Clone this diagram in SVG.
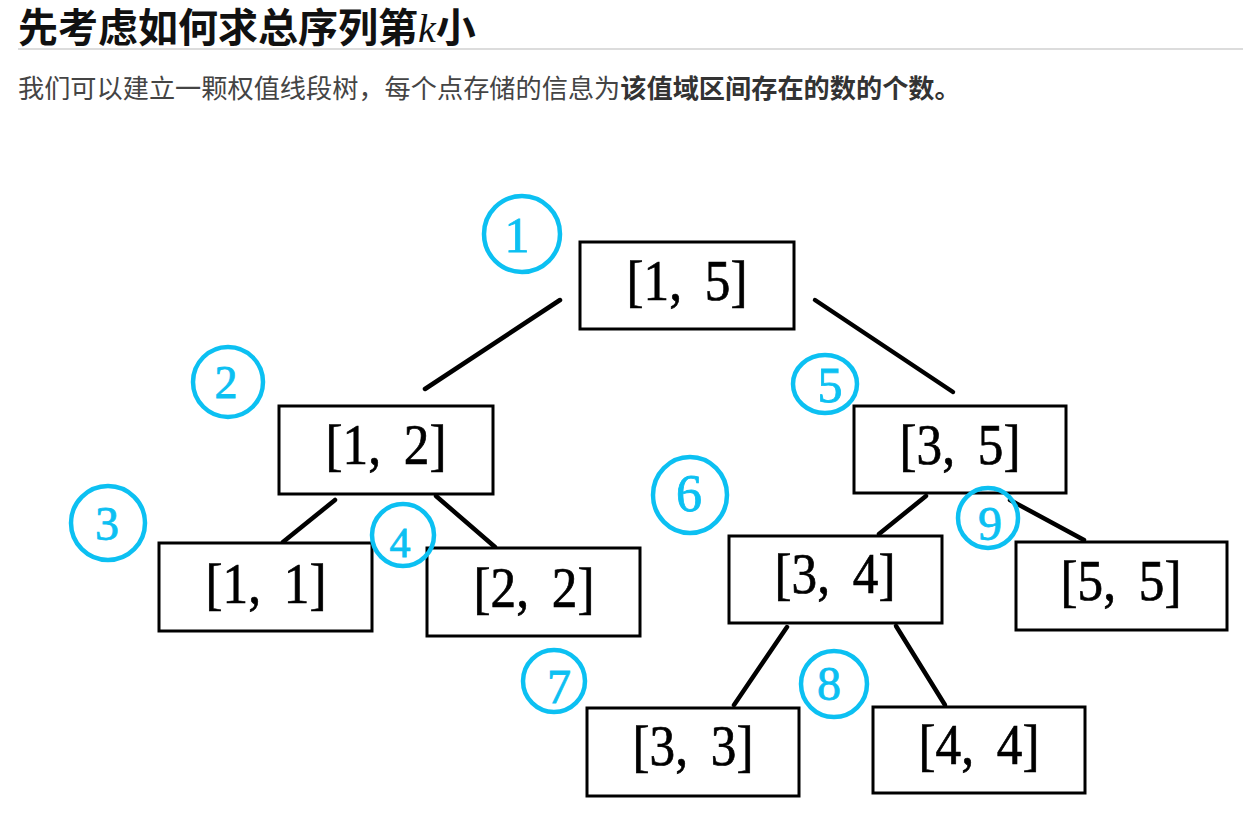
<svg xmlns="http://www.w3.org/2000/svg" width="1243" height="816" viewBox="0 0 1243 816">
<style>
.title{font-family:"Noto Sans CJK SC","Noto Sans",sans-serif;font-weight:700;font-size:40px;fill:#111}
.k{font-family:"Liberation Serif",serif;font-style:italic;font-weight:400;font-size:40px;fill:#111}
.body{font-family:"Noto Sans CJK SC","Noto Sans",sans-serif;font-size:26.2px;fill:#444}
.body .b{font-weight:700;fill:#333}
.box{fill:#fff;stroke:#000;stroke-width:3}
.lbl{font-family:"Liberation Serif","Noto Sans CJK SC",serif;font-size:56px;fill:#000;stroke:#000;stroke-width:0.7;text-anchor:middle}
.edge{stroke:#000;stroke-width:4.5;stroke-linecap:round;fill:none}
.circ{fill:none;stroke:#0cc0f2;stroke-width:4.5}
.num{font-family:"Liberation Serif",serif;fill:#0cc0f2;stroke:#0cc0f2;stroke-width:0.8;text-anchor:middle}
</style>
<rect width="1243" height="816" fill="#fff"/>
<text class="title" x="18" y="42">先考虑如何求总序列第<tspan class="k">k</tspan>小</text>
<line x1="18" y1="49" x2="1243" y2="49" stroke="#d0d0d0" stroke-width="1.5"/>
<text class="body" x="18" y="98">我们可以建立一颗权值线段树，每个点存储的信息为<tspan class="b">该值域区间存在的数的个数。</tspan></text>

<g id="connectors">
<line class="edge" x1="560" y1="300" x2="425" y2="389"/>
<line class="edge" x1="815" y1="300" x2="953" y2="392"/>
<line class="edge" x1="335" y1="500" x2="283" y2="542"/>
<line class="edge" x1="436" y1="496" x2="495" y2="547"/>
<line class="edge" x1="926" y1="496" x2="879" y2="534"/>
<line class="edge" x1="1010" y1="500" x2="1084" y2="540"/>
<line class="edge" x1="787" y1="627" x2="734" y2="705"/>
<line class="edge" x1="896" y1="626" x2="945" y2="705"/>
</g>

<g id="node-1-5"><rect class="box" x="580" y="242" width="214" height="87"/><text class="lbl" x="687" y="300" textLength="121" lengthAdjust="spacingAndGlyphs">[1,<tspan dx="11"> 5]</tspan></text></g>
<g id="node-1-2"><rect class="box" x="279" y="406" width="214" height="88"/><text class="lbl" x="386" y="464" textLength="121" lengthAdjust="spacingAndGlyphs">[1,<tspan dx="11"> 2]</tspan></text></g>
<g id="node-1-1"><rect class="box" x="159" y="543" width="213" height="88"/><text class="lbl" x="266" y="603" textLength="121" lengthAdjust="spacingAndGlyphs">[1,<tspan dx="11"> 1]</tspan></text></g>
<g id="node-2-2"><rect class="box" x="427" y="548" width="213" height="88"/><text class="lbl" x="534" y="607" textLength="121" lengthAdjust="spacingAndGlyphs">[2,<tspan dx="11"> 2]</tspan></text></g>
<g id="node-3-5"><rect class="box" x="854" y="406" width="212" height="87"/><text class="lbl" x="960" y="464" textLength="121" lengthAdjust="spacingAndGlyphs">[3,<tspan dx="11"> 5]</tspan></text></g>
<g id="node-3-4"><rect class="box" x="729" y="536" width="213" height="87"/><text class="lbl" x="835" y="593" textLength="121" lengthAdjust="spacingAndGlyphs">[3,<tspan dx="11"> 4]</tspan></text></g>
<g id="node-5-5"><rect class="box" x="1016" y="542" width="211" height="88"/><text class="lbl" x="1121" y="600" textLength="121" lengthAdjust="spacingAndGlyphs">[5,<tspan dx="11"> 5]</tspan></text></g>
<g id="node-3-3"><rect class="box" x="587" y="708" width="212" height="88"/><text class="lbl" x="693" y="765" textLength="121" lengthAdjust="spacingAndGlyphs">[3,<tspan dx="11"> 3]</tspan></text></g>
<g id="node-4-4"><rect class="box" x="873" y="707" width="212" height="86"/><text class="lbl" x="979" y="764" textLength="121" lengthAdjust="spacingAndGlyphs">[4,<tspan dx="11"> 4]</tspan></text></g>

<g id="marker-1"><ellipse class="circ" cx="522" cy="234" rx="38" ry="38"/><text class="num" x="517" y="252" font-size="50">1</text></g>
<g id="marker-2"><ellipse class="circ" cx="228" cy="382" rx="35" ry="35"/><text class="num" x="226" y="398" font-size="46">2</text></g>
<g id="marker-3"><ellipse class="circ" cx="108" cy="523" rx="37" ry="37"/><text class="num" x="107" y="540" font-size="48">3</text></g>
<g id="marker-4"><ellipse class="circ" cx="403" cy="535" rx="31" ry="31"/><text class="num" x="400" y="557" font-size="42">4</text></g>
<g id="marker-5"><ellipse class="circ" cx="825" cy="384" rx="32" ry="29"/><text class="num" x="830" y="402" font-size="50">5</text></g>
<g id="marker-6"><ellipse class="circ" cx="690" cy="495" rx="37" ry="38"/><text class="num" x="689" y="511" font-size="52">6</text></g>
<g id="marker-7"><ellipse class="circ" cx="554" cy="681" rx="31" ry="31"/><text class="num" x="559" y="703" font-size="48">7</text></g>
<g id="marker-8"><ellipse class="circ" cx="834" cy="684" rx="33" ry="33"/><text class="num" x="829" y="700" font-size="48">8</text></g>
<g id="marker-9"><ellipse class="circ" cx="988" cy="518" rx="30" ry="30"/><text class="num" x="990" y="540" font-size="48">9</text></g>
</svg>
